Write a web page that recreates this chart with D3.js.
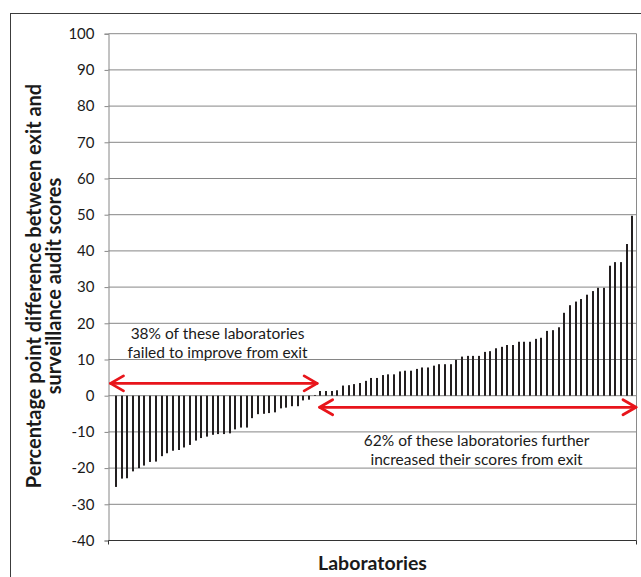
<!DOCTYPE html>
<html><head><meta charset="utf-8">
<script src="https://cdn.jsdelivr.net/npm/d3@7"></script>
<style>html,body{margin:0;padding:0;background:#fff;}svg{display:block;}</style>
</head><body>
<svg id="c" width="641" height="577"></svg>
<script>
// Data: one value per laboratory (sorted), percentage-point difference
const scores = [
  -25.2, -22.9, -22.8, -20.9, -20.0, -19.3, -18.3, -18.2, -16.7, -15.9,
  -15.2, -15.0, -14.3, -13.6, -12.4, -11.7, -11.3, -10.8, -10.6, -10.6,
  -10.4, -9.3, -8.8, -8.8, -6.2, -5.1, -5.0, -4.8, -4.6, -3.5,
  -3.3, -2.9, -2.9, -1.3, -1.1, 0.2,
  1.3, 1.3, 1.3, 1.5,
  2.8, 2.9, 3.2, 3.5, 4.1, 4.9, 4.9, 5.7, 5.9, 5.9, 6.7, 6.9, 6.9, 7.4, 7.8, 7.8,
  8.3, 8.7, 8.7, 8.7, 9.9, 10.8, 11.0, 11.0, 11.0, 12.1, 12.3, 13.1, 13.5, 14.0,
  14.0, 14.9, 14.9, 14.9, 15.7,
  16.0, 17.9, 18.1, 18.9, 22.9, 25.0, 26.0, 26.7, 27.9, 28.9, 29.8, 29.8,
  35.9, 36.9, 36.9, 41.9, 49.7
];
const labs = scores.map((d, i) => "Lab " + (i + 1));
const yTicks = [-40, -30, -20, -10, 0, 10, 20, 30, 40, 50, 60, 70, 80, 90, 100];
const yTitle = ["Percentage point difference between exit and", "surveillance audit scores"];
const xTitle = "Laboratories";
const noteLeft = ["38% of these laboratories", "failed to improve from exit"];
const noteRight = ["62% of these laboratories further", "increased their scores from exit"];
const splitIndex = 35; // first laboratory that is not a decline

const svg = d3.select("#c");
const font = "Lato, 'Open Sans', sans-serif";
const L = 108.5, R = 636.5, T = 33.7, B = 540.5;

const x = d3.scaleBand().domain(labs).range([L, R]).paddingInner(0).paddingOuter(0.55).align(0.77);
const y = d3.scaleLinear().domain([-40, 100]).range([B, T]);
const cx = i => x(labs[i]) + x.bandwidth() / 2;

// outer frame
svg.append("rect").attr("x", 10.5).attr("y", 13.5).attr("width", 700).attr("height", 700)
  .attr("fill", "none").attr("stroke", "#3c3c3c").attr("stroke-width", 1);

// gridlines
svg.append("g").selectAll("line").data(yTicks.filter(t => t > -40 && t < 100)).join("line")
  .attr("x1", L).attr("x2", R).attr("y1", d => y(d)).attr("y2", d => y(d))
  .attr("stroke", "#868686").attr("stroke-width", 1);

// plot border top/right
svg.append("path").attr("d", `M${L},${y(100)}H${R}V${y(-40)}`).attr("fill", "none")
  .attr("stroke", "#8a8a8a").attr("stroke-width", 1);

// y axis
const yAxis = d3.axisLeft(y).tickValues(yTicks).tickSize(4).tickPadding(10).tickFormat(d => String(d));
const gy = svg.append("g").attr("transform", `translate(${L},0)`).call(yAxis);
gy.select(".domain").attr("stroke", "#868686");
gy.selectAll(".tick line").attr("stroke", "#868686");
gy.selectAll(".tick text").attr("font-family", font).attr("font-size", 15).attr("fill", "#1a1a1a");

// bottom axis line
svg.append("path").attr("d", `M${L},${y(-40)}H${R}M${L},${y(-40)}v4M${R},${y(-40)}v4`)
  .attr("stroke", "#333").attr("stroke-width", 1).attr("fill", "none");

// bars
svg.append("g").selectAll("rect").data(scores).join("rect")
  .attr("x", (d, i) => Math.round(cx(i) - 1))
  .attr("width", 2)
  .attr("y", d => y(Math.max(0, d)))
  .attr("height", d => Math.abs(y(d) - y(0)))
  .attr("fill", "#231f20");

// arrows
function arrow(x1, x2, yy) {
  const g = svg.append("g").attr("stroke", "#e8151b").attr("stroke-width", 2.8).attr("fill", "none")
    .attr("stroke-linecap", "round").attr("stroke-linejoin", "round");
  g.append("line").attr("x1", x1).attr("x2", x2).attr("y1", yy).attr("y2", yy);
  g.append("path").attr("d", `M${x1 + 13},${yy - 7.5}L${x1},${yy}L${x1 + 13},${yy + 7.5}`);
  g.append("path").attr("d", `M${x2 - 13},${yy - 7.5}L${x2},${yy}L${x2 - 13},${yy + 7.5}`);
}
const split = cx(splitIndex);
arrow(L + 2, split + 2.5, y(3.4));
arrow(split + 5, R - 0.5, y(-3.2));

// notes
function note(lines, xc, y0) {
  svg.append("text").attr("font-family", font).attr("font-size", 15.5).attr("fill", "#1a1a1a")
    .attr("text-anchor", "middle")
    .selectAll("tspan").data(lines).join("tspan")
    .attr("x", xc).attr("y", (d, i) => y0 + i * 19).text(d => d);
}
note(noteLeft, (L + split) / 2 + 6, 339);
note(noteRight, (split + R) / 2 + 1, 446);

// axis titles
svg.append("text").attr("x", (L + R) / 2).attr("y", 570).attr("text-anchor", "middle")
  .attr("font-family", font).attr("font-weight", "bold").attr("font-size", 19.5).attr("fill", "#1a1a1a").text(xTitle);
svg.append("text").attr("transform", "translate(0,286) rotate(-90)")
  .attr("text-anchor", "middle").attr("font-family", font).attr("font-weight", "bold")
  .attr("font-size", 20).attr("fill", "#1a1a1a")
  .selectAll("tspan").data(yTitle).join("tspan")
  .attr("x", 0).attr("y", (d, i) => 41 + i * 20).text(d => d);
</script>
</body></html>
